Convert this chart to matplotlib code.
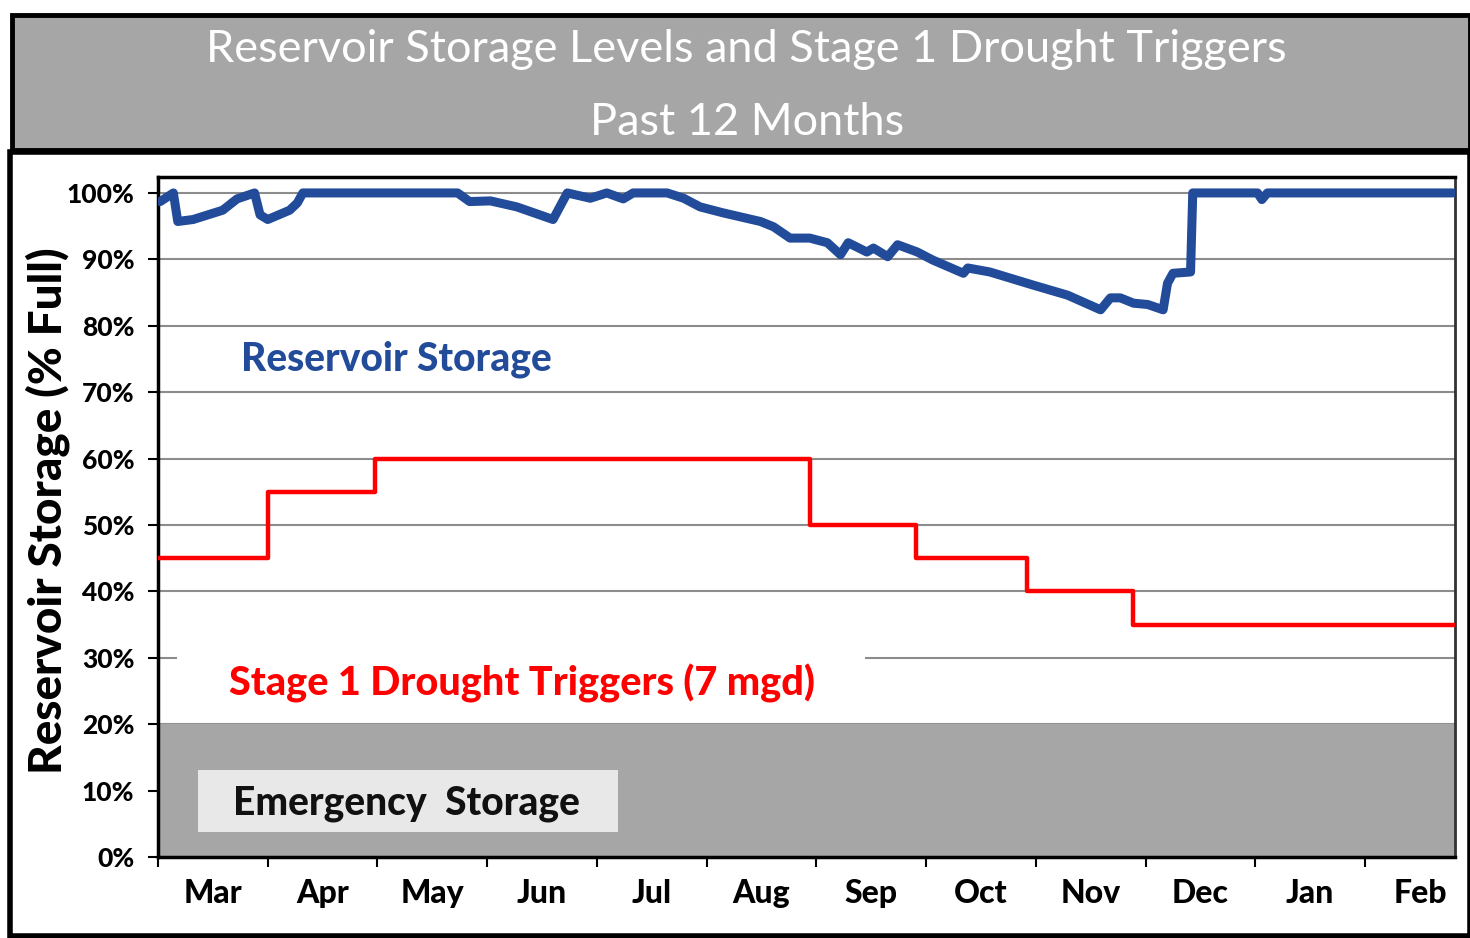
import matplotlib.pyplot as plt
from matplotlib.patches import Rectangle

# Month axis (x in month units from start of March)
months = ["Mar", "Apr", "May", "Jun", "Jul", "Aug", "Sep", "Oct", "Nov", "Dec", "Jan", "Feb"]

# Reservoir storage (% full)
storage_x = [0.02, 0.14, 0.18, 0.32, 0.59, 0.72, 0.88, 0.93, 1.00, 1.20, 1.27, 1.32,
             2.73, 2.84, 3.03, 3.27, 3.60, 3.73, 3.94, 4.09, 4.24, 4.33, 4.64, 4.79,
             4.94, 5.15, 5.49, 5.61, 5.76, 5.94, 6.10, 6.22, 6.29, 6.46, 6.52, 6.65,
             6.74, 6.92, 7.06, 7.34, 7.38, 7.58, 7.98, 8.29, 8.59, 8.68, 8.77, 8.89,
             9.02, 9.16, 9.20, 9.25, 9.41, 9.43, 10.02, 10.06, 10.11, 11.80]
storage_y = [98.7, 100.0, 95.7, 96.0, 97.4, 99.1, 100.0, 96.7, 96.0, 97.4, 98.5, 100.0,
             100.0, 98.7, 98.8, 97.9, 96.0, 100.0, 99.2, 100.0, 99.1, 100.0, 100.0, 99.2,
             97.9, 97.0, 95.7, 94.9, 93.2, 93.2, 92.5, 90.7, 92.5, 91.1, 91.7, 90.4,
             92.2, 91.1, 89.9, 87.9, 88.7, 88.1, 86.1, 84.6, 82.4, 84.2, 84.2, 83.4,
             83.2, 82.4, 86.4, 87.9, 88.1, 100.0, 100.0, 99.0, 100.0, 100.0]

# Stage 1 drought trigger steps
trigger_x = [0.0, 1.00, 1.98, 5.94, 6.91, 7.92, 8.89, 11.82]
trigger_y = [45, 55, 60, 50, 45, 40, 35, 35]

plt.rcParams['font.family'] = ['Lato', 'DejaVu Sans']
BW = "black"

fig = plt.figure(figsize=(14.7, 9.38), dpi=100)
W, H = 1470, 938

# Title banner
fig.patches.append(Rectangle((12 / W, 1 - 150 / H), 1 - 12 / W, 135 / H, transform=fig.transFigure,
                             facecolor="#a6a6a6", edgecolor="black", linewidth=3.5, zorder=-2))
# Chart frame
fig.patches.append(Rectangle((10 / W, 1 - 936 / H), 1 - 10 / W, 784 / H, transform=fig.transFigure,
                             facecolor="white", edgecolor="black", linewidth=4, zorder=-2))
fig.text(0.508, 1 - 50 / H, "Reservoir Storage Levels and Stage 1 Drought Triggers",
         color="white", fontsize=32.5, ha="center", va="center")
fig.text(0.508, 1 - 122 / H, "Past 12 Months", color="white", fontsize=32.5, ha="center", va="center")

ax = fig.add_axes([158 / W, 1 - 857 / H, 1297 / W, 680 / H])
ax.set_xlim(0, 11.82)
ax.set_ylim(0, 102.4)

ax.yaxis.grid(True, color="#8c8c8c", linewidth=1.5, zorder=0)
ax.set_axisbelow(True)

# Emergency storage band
ax.axhspan(0, 20, color="#a6a6a6", zorder=1)
ax.add_patch(Rectangle((0.365, 3.8), 3.83, 9.3, facecolor="#e8e8e8", edgecolor="none", zorder=2))
ax.text(0.68, 8, "Emergency  Storage", fontsize=28, fontweight=BW, color="#111111",
        ha="left", va="center", zorder=3)

# hide 30% gridline behind red label
ax.add_patch(Rectangle((0.015, 28.5), 0.53, 3, transform=ax.get_yaxis_transform(),
                       facecolor="white", edgecolor="none", zorder=1.5))

ax.step(trigger_x, trigger_y, where="post", color="#ff0000", linewidth=3.2, zorder=4)
ax.plot(storage_x, storage_y, color="#224c9a", linewidth=6.5, solid_joinstyle="round",
        solid_capstyle="round", zorder=5)

ax.text(0.76, 75, "Reservoir Storage", color="#224c9a", fontsize=28, fontweight=BW,
        ha="left", va="center", zorder=6)
ax.text(0.65, 26.1, "Stage 1 Drought Triggers (7 mgd)", color="#ff0000", fontsize=28.5,
        fontweight=BW, ha="left", va="center", zorder=6)

ax.set_yticks(range(0, 101, 10))
ax.set_yticklabels([f"{v}%" for v in range(0, 101, 10)], fontsize=19, fontweight=BW)
ax.set_xticks(range(0, 12))
ax.set_xticklabels([])
ax.set_xticks([i + 0.5 for i in range(12)], minor=True)
ax.set_xticklabels(months, minor=True, fontsize=23, fontweight=BW)
ax.tick_params(axis="x", which="minor", length=0, pad=16)
ax.tick_params(axis="x", which="major", length=7, width=1.5, direction="out")
ax.tick_params(axis="y", length=7, width=1.5, direction="out", pad=10)

for side in ["left", "bottom", "top"]:
    ax.spines[side].set_linewidth(2.5)
ax.spines["right"].set_linewidth(2)
ax.spines["right"].set_color("#333333")

ax.set_ylabel("Reservoir Storage (% Full)", fontsize=33, fontweight=BW, labelpad=-6)
ax.yaxis.set_label_coords(-0.085, 0.509)
ax.yaxis.label.set_va("center")

fig.savefig("out.png", dpi=100)
